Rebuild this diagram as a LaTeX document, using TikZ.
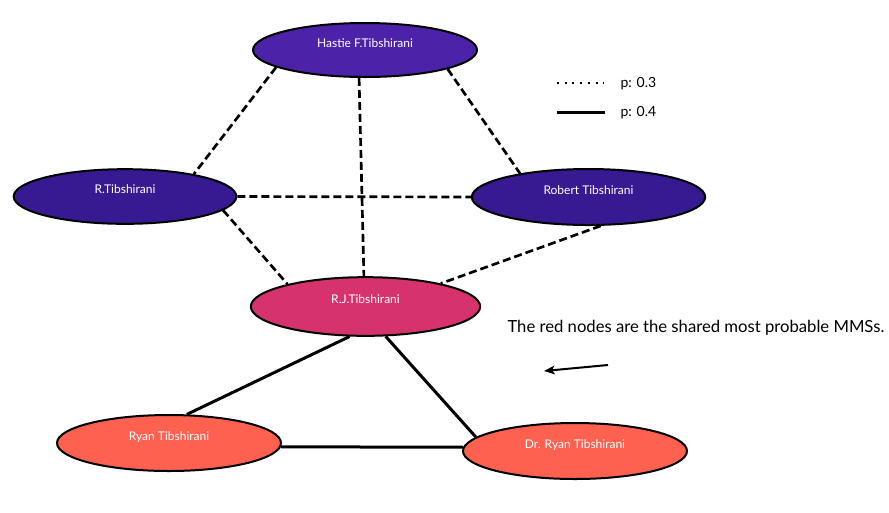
\documentclass[tikz,border=0pt]{standalone}
\usepackage{fontspec}
\setmainfont{Lato}
\usetikzlibrary{shapes.geometric,arrows.meta}

\definecolor{hastiecol}{RGB}{75,34,168}
\definecolor{tibcol}{RGB}{55,25,145}
\definecolor{rjcol}{RGB}{214,50,110}
\definecolor{ryancol}{RGB}{255,97,80}

\tikzset{every picture/.style={line width=0.75pt}}
\tikzset{
  person/.style={ellipse, draw=black, line width=1.5pt, text=white, font=\fontsize{9}{11}\selectfont, text height=6.5pt, text depth=11pt, inner sep=0.75pt},
  weak/.style={line width=2pt, dash pattern=on 6pt off 3pt},
  strong/.style={line width=2.25pt},
  legend/.style={anchor=west, inner sep=0.75pt, font=\fontsize{10.5}{12}\selectfont},
}

\begin{document}
\begin{tikzpicture}[x=0.75pt,y=0.75pt,yscale=-1,xscale=1]
\path[use as bounding box] (0,0) rectangle (889,512);

% Ellipse Nodes
\node[person, fill=hastiecol, minimum width=168pt, minimum height=40.5pt] (hastie) at (365,50) {Hastie F.Tibshirani};
\node[person, fill=tibcol, minimum width=167pt, minimum height=41pt] (rtib) at (125,196.5) {R.Tibshirani};
\node[person, fill=tibcol, minimum width=175pt, minimum height=42pt] (robert) at (588.5,197) {Robert Tibshirani};
\node[person, fill=rjcol, minimum width=172pt, minimum height=44pt] (rj) at (365.5,306.5) {R.J.Tibshirani};
\node[person, fill=ryancol, minimum width=168pt, minimum height=42pt] (ryan) at (169,443) {Ryan Tibshirani};
\node[person, fill=ryancol, minimum width=168pt, minimum height=42pt] (drryan) at (575,451) {Dr. Ryan Tibshirani};

%Dashed Lines
\draw[weak] (hastie.191) -- (rtib.18);
\draw[weak] (hastie.258) -- (rj.93);
\draw[weak] (hastie.347) -- (robert.161);
\draw[weak] (rtib.east) -- (robert.west);
\draw[weak] (rtib.352) -- (rj.164);
\draw[weak] (robert.293) -- (rj.17);

%Straight Lines
\draw[strong] (rj.242) -- (ryan.58);
\draw[strong] (rj.304) -- (drryan.172);
\draw[strong] (ryan.358) -- (drryan.178);

% Legend
\coordinate (dotA) at (557,83);
\coordinate (dotB) at (604,83);
\coordinate (solA) at (557,112);
\coordinate (solB) at (605,112);
\draw[line width=1.5pt, dash pattern=on 1.5pt off 4.3pt] (dotA) -- (dotB);
\draw[strong] (solA) -- (solB);
\node[legend] (pweak) at (619,84) {p: 0.3};
\node[legend] (pstrong) at (619,113) {p: 0.4};

% Text Node
\node[anchor=west, inner sep=0.75pt, font=\fontsize{12.5}{15}\selectfont] (note) at (506,328) {The red nodes are the shared most probable MMSs.};

%Arrow
\coordinate (arrowtail) at (608,365);
\coordinate (arrowhead) at (544,371);
\draw[line width=1.5pt, -{Stealth[length=8pt,width=6.5pt,inset=2pt]}] (arrowtail) -- (arrowhead);

\end{tikzpicture}
\end{document}
